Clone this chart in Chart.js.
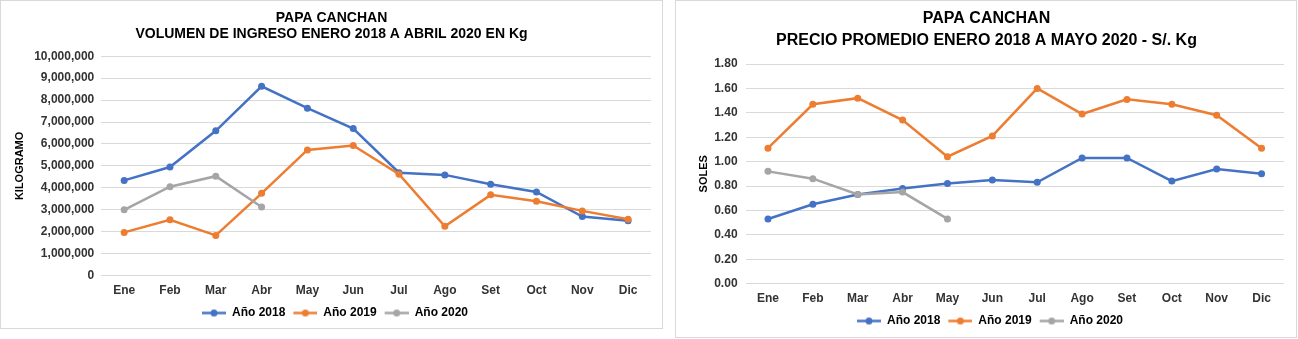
<!DOCTYPE html>
<html>
<head>
<meta charset="utf-8">
<script src="https://cdn.jsdelivr.net/npm/chart.js@4.4.1/dist/chart.umd.min.js"></script>
<style>
    body { margin: 0; background: #fff; width: 1298px; height: 339px; position: relative; overflow: hidden; }
    .box { position: absolute; border: 1px solid #d9d9d9; background: #fff; }
    #boxVol { left: 0; top: 0; width: 661px; height: 327px; }
    #boxPre { left: 675px; top: 0; width: 620px; height: 336px; }
</style>
</head>
<body>
<div class="box" id="boxVol"><canvas id="volChart" width="661" height="327"></canvas></div>
<div class="box" id="boxPre"><canvas id="preChart" width="620" height="336"></canvas></div>
<script>
// Data
const months = ['Ene', 'Feb', 'Mar', 'Abr', 'May', 'Jun', 'Jul', 'Ago', 'Set', 'Oct', 'Nov', 'Dic'];
const seriesNames = ['Año 2018', 'Año 2019', 'Año 2020'];

const vol2018 = [4340000, 4950000, 6600000, 8630000, 7630000, 6700000, 4690000, 4590000, 4160000, 3810000, 2690000, 2500000];
const vol2019 = [1970000, 2540000, 1830000, 3750000, 5730000, 5930000, 4620000, 2250000, 3680000, 3390000, 2950000, 2570000];
const vol2020 = [3000000, 4050000, 4530000, 3130000];

const pre2018 = [0.53, 0.65, 0.73, 0.78, 0.82, 0.85, 0.83, 1.03, 1.03, 0.84, 0.94, 0.90];
const pre2019 = [1.11, 1.47, 1.52, 1.34, 1.04, 1.21, 1.60, 1.39, 1.51, 1.47, 1.38, 1.11];
const pre2020 = [0.92, 0.86, 0.73, 0.75, 0.53];

const colors = ['#4472C4', '#ED7D31', '#A5A5A5'];

Chart.defaults.font.family = "'Liberation Sans', Arial, sans-serif";
Chart.defaults.font.weight = 'bold';
Chart.defaults.color = '#333333';

// small line + dot sample, like the excel legend (transparent margin on the left)
function legendMark(color) {
    const c = document.createElement('canvas');
    c.width = 31;
    c.height = 9;
    const g = c.getContext('2d');
    g.strokeStyle = color;
    g.lineWidth = 2.5;
    g.beginPath();
    g.moveTo(7, 4.5);
    g.lineTo(31, 4.5);
    g.stroke();
    g.fillStyle = color;
    g.beginPath();
    g.arc(19, 4.5, 3.5, 0, Math.PI * 2);
    g.fill();
    return c;
}
const marks = colors.map(legendMark);

function makeDatasets(lists) {
    return lists.map((data, i) => ({
        label: seriesNames[i],
        data: data,
        borderColor: colors[i],
        backgroundColor: colors[i],
        borderWidth: 2.5,
        pointRadius: 3.5,
        pointBorderWidth: 0,
        tension: 0,
        order: 3 - i
    }));
}

function lineOptions(cfg) {
    return {
        responsive: false,
        animation: false,
        layout: { padding: cfg.padding },
        plugins: {
            title: {
                display: true,
                text: cfg.title,
                color: '#000',
                font: { size: cfg.titleSize, weight: 'bold', lineHeight: cfg.titleLine },
                padding: cfg.titlePad
            },
            legend: {
                position: 'bottom',
                labels: {
                    usePointStyle: true,
                    pointStyleWidth: 31,
                    boxHeight: 12,
                    padding: 1,
                    font: { size: 12, weight: 'bold' },
                    generateLabels: (chart) => chart.data.datasets.map((ds, i) => ({
                        text: ds.label,
                        fillStyle: ds.borderColor,
                        strokeStyle: ds.borderColor,
                        pointStyle: marks[i],
                        hidden: false,
                        datasetIndex: i
                    }))
                }
            },
            tooltip: { enabled: false }
        },
        scales: {
            x: {
                offset: true,
                grid: { display: false, drawTicks: false, tickLength: 0 },
                border: { display: false },
                ticks: { padding: cfg.xPad, font: { size: 12, weight: 'bold' } }
            },
            y: {
                min: 0,
                max: cfg.max,
                grid: { color: '#d9d9d9', drawTicks: false, tickLength: 0 },
                border: { display: false },
                ticks: {
                    stepSize: cfg.step,
                    padding: cfg.yPad,
                    font: { size: 12, weight: 'bold' },
                    callback: cfg.fmt
                },
                title: {
                    display: true,
                    text: cfg.yTitle,
                    color: '#000',
                    font: { size: 11, weight: 'bold' },
                    padding: cfg.yTitlePad
                }
            }
        }
    };
}

new Chart(document.getElementById('volChart').getContext('2d'), {
    type: 'line',
    data: { labels: months, datasets: makeDatasets([vol2018, vol2019, vol2020]) },
    options: lineOptions({
        title: ['PAPA CANCHAN', 'VOLUMEN DE INGRESO ENERO 2018 A ABRIL 2020 EN Kg'],
        titleSize: 14,
        titleLine: 1.15,
        titlePad: { top: 9, bottom: 14 },
        padding: { left: 11, right: 11, top: 0, bottom: -1 },
        xPad: 8,
        yPad: 7,
        max: 10000000,
        step: 1000000,
        fmt: (v) => Number(v).toLocaleString('en-US'),
        yTitle: 'KILOGRAMO',
        yTitlePad: { top: 1, bottom: 1 }
    })
});

new Chart(document.getElementById('preChart').getContext('2d'), {
    type: 'line',
    data: { labels: months, datasets: makeDatasets([pre2018, pre2019, pre2020]) },
    options: lineOptions({
        title: ['PAPA CANCHAN', 'PRECIO PROMEDIO ENERO 2018 A MAYO 2020 - S/. Kg'],
        titleSize: 16,
        titleLine: 1.375,
        titlePad: { top: 7, bottom: 12 },
        padding: { left: 13, right: 12, top: 0, bottom: 0 },
        xPad: 8,
        yPad: 8,
        max: 1.8,
        step: 0.2,
        fmt: (v) => Number(v).toFixed(2),
        yTitle: 'SOLES',
        yTitlePad: { top: 8, bottom: -4 }
    })
});
</script>
</body>
</html>
